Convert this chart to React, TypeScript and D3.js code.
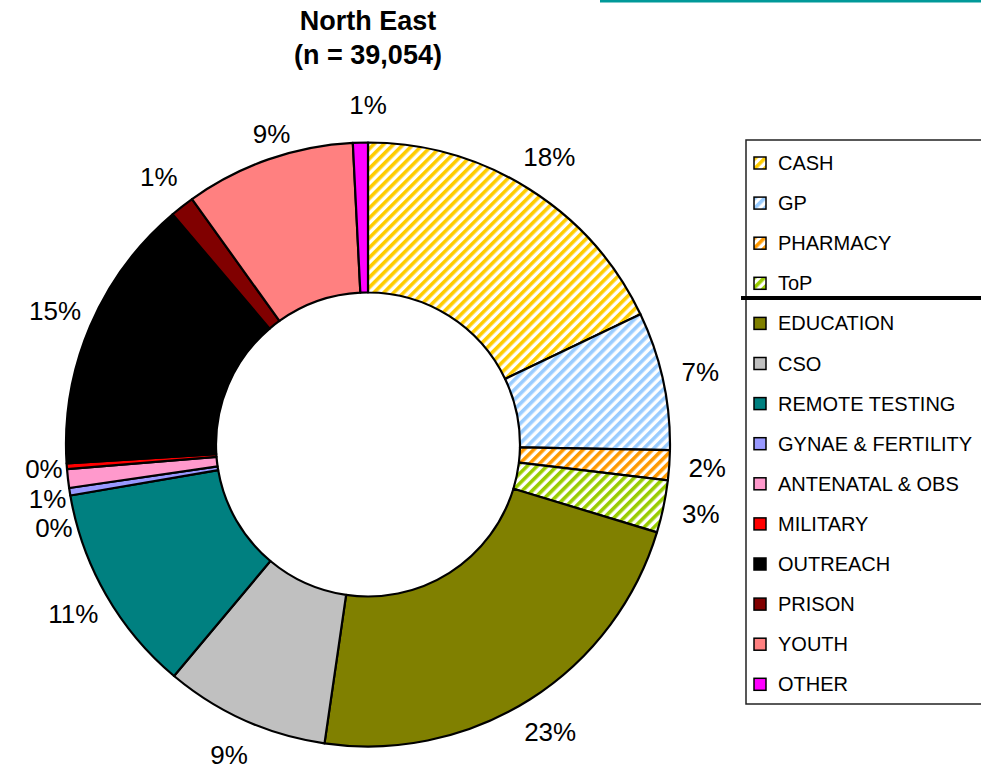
import React from "react";
import * as d3 from "d3";

const categories = [
  "CASH", "GP", "PHARMACY", "ToP", "EDUCATION", "CSO", "REMOTE TESTING",
  "GYNAE & FERTILITY", "ANTENATAL & OBS", "MILITARY", "OUTREACH", "PRISON", "YOUTH", "OTHER",
];
const values = [17.9, 7.4, 1.6, 2.8, 22.6, 8.8, 11.2, 0.4, 1.0, 0.3, 14.8, 1.3, 9.1, 0.8];
const colors = [
  "#FFCC00", "#99CCFF", "#FF9900", "#99CC00", "#808000", "#C0C0C0", "#008080",
  "#9999FF", "#FF99CC", "#FF0000", "#000000", "#800000", "#FF8080", "#FF00FF",
];
const hatched = [true, true, true, true, false, false, false, false, false, false, false, false, false, false];
const titleLines = ["North East", "(n = 39,054)"];

const W = 981, H = 776;
const cx = 368, cy = 444.5;
const R = 302, r0 = 152, RL = 340, RC = 325;
const GAP = 29.5;
const FONT = "'Liberation Sans', Arial, sans-serif";

export default function App() {
  const pie = d3.pie<number>().sort(null).value((d) => d);
  const arcs = pie(values);
  const arcGen = d3.arc<d3.PieArcDatum<number>>().innerRadius(r0).outerRadius(R);
  const total = d3.sum(values);

  const labels = arcs.map((a, i) => {
    const m = (a.startAngle + a.endAngle) / 2;
    return {
      i,
      text: `${Math.round((values[i] / total) * 100)}%`,
      x: cx + RL * Math.sin(m),
      y: cy - RL * Math.cos(m),
      left: Math.sin(m) < 0,
      crowded: false,
    };
  });
  [true, false].forEach((side) => {
    const group = labels.filter((l) => l.left === side).sort((a, b) => a.y - b.y);
    for (let k = 1; k < group.length; k++) {
      if (group[k].y < group[k - 1].y + GAP) {
        group[k].y = group[k - 1].y + GAP;
        group[k].crowded = true;
        group[k - 1].crowded = true;
      }
    }
    group.forEach((l) => {
      if (l.crowded) {
        const dy = l.y - cy;
        const dx = Math.sqrt(Math.max(0, RC * RC - dy * dy));
        l.x = side ? cx - dx : cx + dx;
      }
    });
  });

  const legendY = (i: number) => 163 + 40.1 * i;

  return (
    <svg width={W} height={H} style={{ position: "absolute", left: 0, top: 0, background: "#fff" }}>
      <defs>
        {colors.map((c, i) =>
          hatched[i] ? (
            <pattern key={i} id={`hatch${i}`} patternUnits="userSpaceOnUse" width={7} height={7} patternTransform="rotate(45)">
              <rect width={7} height={7} fill="#fff" />
              <rect width={3.6} height={7} fill={c} />
            </pattern>
          ) : null
        )}
      </defs>
      <line x1={600} x2={981} y1={1} y2={1} stroke="#009999" strokeWidth={3} />

      {titleLines.map((t, i) => (
        <text key={i} x={cx} y={30 + i * 34} textAnchor="middle" fontFamily={FONT} fontWeight="bold" fontSize={27} fill="#000">
          {t}
        </text>
      ))}

      <g transform={`translate(${cx},${cy})`}>
        {arcs.map((a, i) => (
          <path key={i} d={arcGen(a) || ""} fill={hatched[i] ? `url(#hatch${i})` : colors[i]} stroke="#000" strokeWidth={2.2} strokeLinejoin="round" />
        ))}
      </g>

      {labels.map((l) => (
        <text key={l.i} x={l.x} y={l.y} textAnchor="middle" dominantBaseline="central" fontFamily={FONT} fontSize={26} fill="#000">
          {l.text}
        </text>
      ))}

      <rect x={746} y={140} width={260} height={564} fill="#fff" stroke="#222" strokeWidth={1.5} />
      {categories.map((c, i) => (
        <g key={i}>
          <rect x={754} y={legendY(i) - 6} width={12} height={12} fill={hatched[i] ? `url(#hatch${i})` : colors[i]} stroke="#000" strokeWidth={1.5} />
          <text x={778} y={legendY(i)} dominantBaseline="central" fontFamily={FONT} fontSize={20} fill="#000">
            {c}
          </text>
        </g>
      ))}
      <line x1={741} x2={981} y1={298} y2={298} stroke="#000" strokeWidth={4} />
    </svg>
  );
}
